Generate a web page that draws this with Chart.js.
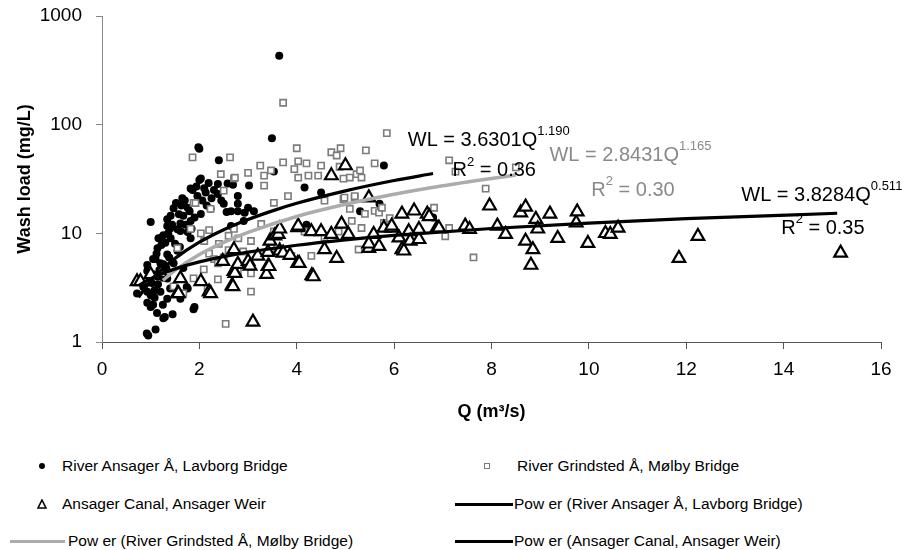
<!DOCTYPE html>
<html>
<head>
<meta charset="utf-8">
<script src="https://cdn.jsdelivr.net/npm/chart.js@4.4.0/dist/chart.umd.min.js"></script>
<style>
  body { margin: 0; background: #fff; font-family: "Liberation Sans", Arial, sans-serif; }
  #wrap { position: relative; width: 921px; height: 550px; overflow: hidden; }
  #chart { position: absolute; left: 0; top: 0; }
  .lg-text { position: absolute; font-size: 15.5px; line-height: 20px; color: #000; white-space: nowrap; }
  .lg-sw { position: absolute; }
</style>
</head>
<body>
<div id="wrap">
  <canvas id="chart" width="921" height="440"></canvas>
  <div id="legend"></div>
</div>
<script>
const FONT = '"Liberation Sans", Arial, sans-serif';

// axis ticks
const xTicks = [0, 2, 4, 6, 8, 10, 12, 14, 16];
const yTicks = [1, 10, 100, 1000];

// River Ansager Å, Lavborg Bridge
const ansagerQ = [0.72, 0.79, 0.85, 0.92, 0.93, 0.93, 0.93, 0.93, 0.95, 1.0, 1.0, 1.0, 1.05, 1.05, 1.05, 1.08,
  1.1, 1.1, 1.13, 1.14, 1.14, 1.16, 1.2, 1.2, 1.2, 1.26, 1.26, 1.26, 1.26, 1.29, 1.34, 1.34, 1.34, 1.34, 1.34,
  1.4, 1.4, 1.41, 1.41, 1.45, 1.47, 1.47, 1.55, 1.55, 1.55, 1.61, 1.61, 1.61, 1.65, 1.67, 1.67, 1.74, 1.76,
  1.76, 1.76, 1.82, 1.82, 1.82, 1.86, 1.88, 1.9, 1.96, 1.98, 2.0, 2.0, 2.03, 2.03, 2.13, 2.19, 2.23, 2.38,
  2.38, 2.4, 2.5, 2.56, 2.58, 2.65, 2.65, 2.69, 2.79, 2.79, 2.79, 2.91, 2.93, 3.0, 3.02, 3.12, 3.49, 3.53,
  3.64, 4.16, 4.2, 4.5, 5.3, 5.7, 5.79, 6.8,
  0.98, 1.02, 1.08, 1.12, 1.15, 1.18, 1.22, 1.25, 1.3, 1.32, 1.36, 1.38, 1.44, 1.5, 1.52, 1.58, 1.6, 1.63,
  1.7, 1.72, 1.8, 1.84, 1.9, 1.94, 2.06, 2.1, 2.15, 2.25, 2.3, 2.45];
const ansagerWL = [2.8, 3.6, 3.2, 1.2, 2.3, 2.9, 4.5, 5.1, 1.15, 2.1, 2.7, 12.7, 2.2, 4.2, 5.8, 2.55,
  1.3, 5.8, 1.85, 4.0, 7.3, 9.0, 2.9, 5.3, 9.0, 1.65, 3.9, 5.2, 9.6, 1.7, 2.5, 3.85, 6.4, 11.7, 13.5,
  3.1, 11.1, 9.0, 14.5, 1.8, 5.3, 17, 2.9, 6.9, 10.9, 2.5, 10.5, 12.3, 21, 4.8, 14.5, 3.2, 3.1,
  10.3, 17.2, 9.0, 13, 25.8, 25, 2.0, 2.1, 22, 62, 31, 60, 15.1, 32, 23.7, 29, 16.8, 23,
  28.5, 47, 18.7, 15.7, 28.7, 11.7, 16, 28, 18.7, 22, 16, 13, 15.5, 17.2, 27.5, 16, 75, 37,
  430, 26.4, 12, 23.7, 16, 18.7, 42, 14,
  3.8, 3.5, 3.0, 6.5, 3.4, 4.6, 7.8, 2.2, 8.2, 4.8, 10, 6, 12, 8, 19, 15, 7.5, 18,
  20, 12, 16, 11, 14, 27, 20, 26, 18, 21, 25, 20];

// River Grindsted Å, Mølby Bridge
const grindstedQ = [1.47, 1.55, 1.61, 1.67, 1.82, 1.86, 1.88, 1.88, 1.92, 2.03, 2.09, 2.1, 2.17, 2.2, 2.2,
  2.23, 2.3, 2.38, 2.38, 2.4, 2.44, 2.5, 2.5, 2.54, 2.6, 2.6, 2.63, 2.71, 2.71, 2.73, 2.79, 2.8, 2.9, 3.0,
  3.06, 3.06, 3.06, 3.25, 3.27, 3.33, 3.33, 3.47, 3.47, 3.53, 3.53, 3.72, 3.72, 3.82, 3.89, 3.95, 4.0,
  4.03, 4.03, 4.16, 4.2, 4.24, 4.3, 4.44, 4.5, 4.57, 4.57, 4.71, 4.82, 4.86, 4.88, 4.9, 4.96, 4.96, 4.98,
  5.09, 5.09, 5.13, 5.19, 5.19, 5.23, 5.27, 5.3, 5.33, 5.33, 5.4, 5.42, 5.6, 5.6, 5.69, 5.75, 5.79, 5.85,
  5.91, 6.82, 7.05, 7.13, 7.13, 7.26, 7.63, 7.88, 8.5];
const grindstedWL = [3.25, 7.3, 2.8, 2.8, 11, 50, 3.85, 19.1, 19, 10, 4.66, 8.5, 3.1, 6.5, 10.7,
  16.8, 5.8, 3.77, 5.3, 8, 35, 24.7, 6, 1.47, 7, 9.5, 50, 11, 32, 32.5, 4.47, 9, 6.8, 36,
  2.91, 4.28, 8.5, 42, 12.2, 27.5, 34, 7.3, 37.9, 10.4, 19.1, 45, 159, 22, 6.2, 39, 60.7,
  32.5, 46, 10.4, 44, 34, 6.2, 34, 42, 9.2, 20, 55.7, 52, 10.4, 41, 60.7, 20.7, 31.9, 21.3,
  16.8, 32.6, 13, 21.3, 22, 35, 7.1, 37.9, 11.2, 32.6, 15.1, 58, 16.1, 44, 15.5, 17.2, 12.5, 83.7,
  13.8, 17.2, 9.4, 11.2, 47, 37, 6.0, 25.8, 40.5];

// Ansager Canal, Ansager Weir
const canalQ = [0.72, 0.79, 1.0, 1.2, 1.55, 1.57, 1.61, 2.03, 2.2, 2.23, 2.48, 2.67, 2.69, 2.71, 2.71, 2.73,
  2.79, 3.0, 3.04, 3.1, 3.2, 3.38, 3.41, 3.41, 3.43, 3.45, 3.55, 3.62, 3.65, 3.65, 3.72, 3.86, 4.02, 4.02,
  4.03, 4.05, 4.3, 4.31, 4.34, 4.5, 4.57, 4.71, 4.71, 4.82, 4.92, 5.0, 5.06, 5.48, 5.48, 5.48, 5.58, 5.69,
  5.79, 5.95, 5.95, 6.1, 6.16, 6.16, 6.2, 6.3, 6.33, 6.41, 6.51, 6.51, 6.68, 6.72, 6.88, 6.92, 7.46, 7.55,
  7.96, 8.12, 8.29, 8.6, 8.7, 8.7, 8.81, 8.85, 8.91, 8.95, 9.2, 9.36, 9.74, 9.76, 9.98, 10.34, 10.44, 10.6,
  11.85, 12.24, 15.17];
const canalWL = [3.6, 3.6, 4.18, 4.3, 2.8, 2.8, 3.85, 3.61, 2.9, 2.8, 5.53, 3.3, 3.24, 4.47, 7.1, 4.3,
  5.2, 5.53, 5.0, 1.53, 6.2, 4.2, 4.97, 6.7, 4.97, 8.5, 9.5, 9.8, 11, 6.9, 6.6, 6.3, 11.3, 5.3,
  11.7, 5.3, 10.4, 4.1, 4.0, 10.4, 7.1, 9.8, 34, 5.9, 12.2, 42, 9.8, 7.3, 8.0, 21.3, 9.8, 7.6,
  11.2, 11.2, 11.7, 9.1, 7.1, 15.1, 6.9, 10.4, 8.5, 16.1, 8.8, 10.9, 15.1, 14.3, 11.2, 11.2, 11.7, 10.9,
  17.9, 11.7, 9.8, 15.5, 17.5, 8.5, 5.1, 7.1, 13.5, 11.0, 15.1, 9.0, 12.5, 15.8, 8.1, 10, 9.8, 11.2,
  5.9, 9.4, 6.6];

// power trend lines
const fitAnsagerQ = [0.75, 1, 1.25, 1.5, 2, 2.5, 3, 3.5, 4, 5, 6, 6.8];
const fitAnsagerWL = [2.58, 3.63, 4.73, 5.88, 8.28, 10.8, 13.4, 16.1, 18.9, 24.6, 30.6, 35.5];
const fitGrindQ = [1.25, 1.5, 2, 2.5, 3, 4, 5, 6, 7, 8, 8.5];
const fitGrindWL = [3.69, 4.56, 6.38, 8.27, 10.2, 14.3, 18.5, 22.9, 27.4, 32.0, 34.4];
const fitCanalQ = [0.75, 1, 1.5, 2, 3, 4, 5, 6, 8, 10, 12, 15.1];
const fitCanalWL = [3.30, 3.83, 4.71, 5.46, 6.71, 7.77, 8.71, 9.56, 11.08, 12.42, 13.63, 15.3];

// equation labels: text pieces (sup = superscript) and anchor in data units
const equations = [
  { q: 6.28, wl: 72, color: '#000', parts: [{ t: 'WL = 3.6301Q' }, { t: '1.190', sup: true }] },
  { q: 7.2, wl: 37.5, color: '#000', parts: [{ t: 'R' }, { t: '2', sup: true }, { t: ' = 0.36' }] },
  { q: 9.19, wl: 52.6, color: '#8a8a8a', parts: [{ t: 'WL = 2.8431Q' }, { t: '1.165', sup: true }] },
  { q: 10.05, wl: 25, color: '#8a8a8a', parts: [{ t: 'R' }, { t: '2', sup: true }, { t: ' = 0.30' }] },
  { q: 13.13, wl: 22.1, color: '#000', parts: [{ t: 'WL = 3.8284Q' }, { t: '0.511', sup: true }] },
  { q: 13.95, wl: 11, color: '#000', parts: [{ t: 'R' }, { t: '2', sup: true }, { t: ' = 0.35' }] },
];

const legendLabels = [
  'River Ansager Å, Lavborg Bridge',
  'River Grindsted Å, Mølby Bridge',
  'Ansager Canal, Ansager Weir',
  'Pow er (River Ansager Å, Lavborg Bridge)',
  'Pow er (River Grindsted Å, Mølby Bridge)',
  'Pow er (Ansager Canal, Ansager Weir)',
];

function pairs(qs, wls) {
  return qs.map((q, i) => ({ x: q, y: wls[i] }));
}

const eqPlugin = {
  id: 'eqLabels',
  afterDatasetsDraw(chart) {
    const { ctx } = chart;
    const xs = chart.scales.x, ys = chart.scales.y;
    equations.forEach(e => {
      let px = xs.getPixelForValue(e.q);
      const py = ys.getPixelForValue(e.wl);
      ctx.save();
      ctx.fillStyle = e.color;
      ctx.textAlign = 'left';
      ctx.textBaseline = 'middle';
      e.parts.forEach(p => {
        ctx.font = (p.sup ? '13px ' : '20px ') + FONT;
        ctx.fillText(p.t, px, p.sup ? py - 9 : py);
        px += ctx.measureText(p.t).width;
      });
      ctx.restore();
    });
  }
};

const lineBase = { type: 'line', showLine: true, pointRadius: 0, fill: false, cubicInterpolationMode: 'monotone' };

const chart = new Chart(document.getElementById('chart').getContext('2d'), {
  type: 'scatter',
  data: {
    datasets: [
      { label: legendLabels[0], data: pairs(ansagerQ, ansagerWL), pointStyle: 'circle', pointRadius: 4,
        backgroundColor: '#000', borderColor: '#000', borderWidth: 0, order: 5 },
      { label: legendLabels[1], data: pairs(grindstedQ, grindstedWL), pointStyle: 'rect', pointRadius: 4.4,
        backgroundColor: '#fff', borderColor: '#7c7c7c', borderWidth: 1.6, order: 4 },
      { label: legendLabels[2], data: pairs(canalQ, canalWL), pointStyle: 'triangle', pointRadius: 7.3,
        backgroundColor: '#fff', borderColor: '#000', borderWidth: 2.2, order: 3 },
      { ...lineBase, label: legendLabels[3], data: pairs(fitAnsagerQ, fitAnsagerWL), borderColor: '#000', borderWidth: 3.2, order: 0 },
      { ...lineBase, label: legendLabels[4], data: pairs(fitGrindQ, fitGrindWL), borderColor: '#acacac', borderWidth: 3.5, order: 1 },
      { ...lineBase, label: legendLabels[5], data: pairs(fitCanalQ, fitCanalWL), borderColor: '#000', borderWidth: 3.2, order: 0 },
    ]
  },
  options: {
    responsive: false,
    animation: false,
    events: [],
    layout: { padding: { top: 16, right: 40, left: 0, bottom: 0 } },
    plugins: { legend: { display: false }, tooltip: { enabled: false } },
    scales: {
      x: {
        type: 'linear', min: 0, max: 16,
        afterFit: s => { s.height = 98; },
        afterBuildTicks: s => { s.ticks = xTicks.map(v => ({ value: v })); },
        ticks: { color: '#000', font: { family: FONT, size: 19 }, padding: 9, maxRotation: 0 },
        grid: { drawOnChartArea: false, drawTicks: true, tickLength: 7, color: '#555' },
        border: { display: true, color: '#555', width: 1 },
        title: { display: true, text: 'Q (m³/s)', color: '#000', font: { family: FONT, size: 18, weight: 'bold' },
                 padding: { top: 0, bottom: 17 } },
      },
      y: {
        type: 'logarithmic', min: 1, max: 1000,
        // fixed axis box; drop the label overhang so the plot top sits at the layout padding
        afterFit: s => { s.width = 102; s.paddingTop = 0; s.paddingBottom = 0; },
        afterBuildTicks: s => { s.ticks = yTicks.map(v => ({ value: v })); },
        ticks: { color: '#000', font: { family: FONT, size: 19 }, padding: 14, callback: v => String(v) },
        grid: { drawOnChartArea: false, drawTicks: true, tickLength: 6, color: '#888' },
        border: { display: true, color: '#888', width: 1 },
        title: { display: true, text: 'Wash load (mg/L)', color: '#000', font: { family: FONT, size: 18, weight: 'bold' },
                 padding: { top: 14, bottom: 0 } },
      },
    },
  },
  plugins: [eqPlugin],
});

// legend laid out as in the original two-column block
const legendSpots = [
  { sw: 'dot',  sx: 42,  ex: 0,   tx: 62,  y: 466 },
  { sw: 'rect', sx: 487, ex: 0,   tx: 517, y: 466 },
  { sw: 'tri',  sx: 42,  ex: 0,   tx: 62,  y: 504 },
  { sw: 'line', sx: 455, ex: 513, tx: 514, y: 504, color: '#000' },
  { sw: 'line', sx: 10,  ex: 65,  tx: 68,  y: 541, color: '#acacac' },
  { sw: 'line', sx: 455, ex: 513, tx: 514, y: 541, color: '#000' },
];

function buildLegend() {
  const box = document.getElementById('legend');
  let html = '';
  chart.data.datasets.forEach((ds, i) => {
    const s = legendSpots[i];
    if (s.sw === 'dot') {
      html += `<div class="lg-sw" style="left:${s.sx - 3}px;top:${s.y - 3}px;width:6px;height:6px;border-radius:50%;background:#000"></div>`;
    } else if (s.sw === 'rect') {
      html += `<div class="lg-sw" style="left:${s.sx - 3}px;top:${s.y - 3}px;width:4px;height:4px;border:1px solid #7c7c7c;background:#fff"></div>`;
    } else if (s.sw === 'tri') {
      html += `<svg class="lg-sw" style="left:${s.sx - 5}px;top:${s.y - 5}px" width="10" height="10">
        <polygon points="5,1 9,9 1,9" fill="#fff" stroke="#000" stroke-width="1.6"/></svg>`;
    } else {
      html += `<div class="lg-sw" style="left:${s.sx}px;top:${s.y - 1.5}px;width:${s.ex - s.sx}px;height:3px;background:${s.color}"></div>`;
    }
    html += `<div class="lg-text" style="left:${s.tx}px;top:${s.y - 10}px">${ds.label}</div>`;
  });
  box.innerHTML = html;
}
buildLegend();
</script>
</body>
</html>
